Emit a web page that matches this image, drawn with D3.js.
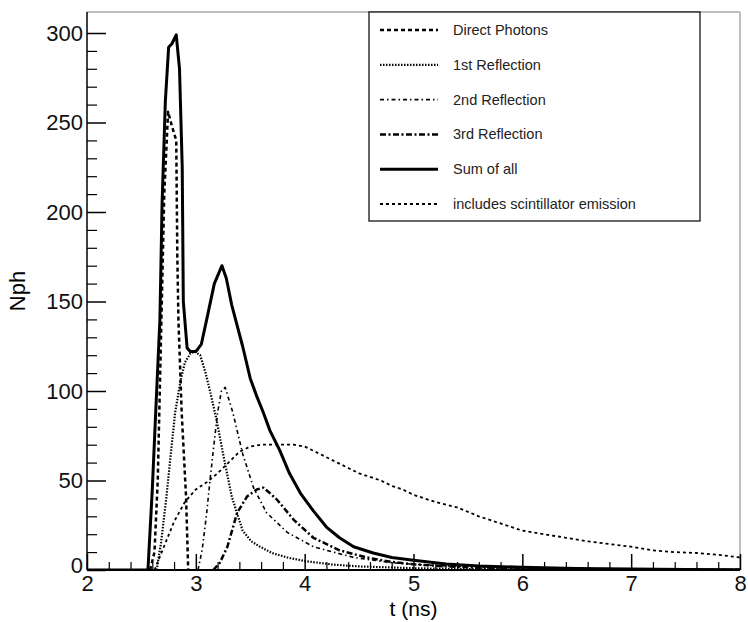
<!DOCTYPE html>
<html>
<head>
<meta charset="utf-8">
<title>Nph vs t</title>
<script src="https://d3js.org/d3.v7.min.js"></script>
<style>
	body { margin: 0; background: #fff; }
	svg { display: block; }
	text { font-family: "Liberation Sans", Arial, Helvetica, sans-serif; }
	.tick text { font-size: 22px; fill: #111; }
	.domain { display: none; }
</style>
</head>
<body>
<div id="chart"></div>
<script>

// time (ns) / photon counts
var sumT = [2.0, 2.56, 2.60, 2.64, 2.67, 2.69, 2.72, 2.75, 2.78, 2.82, 2.85, 2.875, 2.885, 2.92, 2.95, 3.00, 3.05, 3.10, 3.17, 3.24, 3.28, 3.33, 3.43, 3.50, 3.56, 3.62, 3.68, 3.77, 3.86, 3.96, 4.08, 4.20, 4.32, 4.45, 4.63, 4.80, 5.00, 5.30, 5.60, 6.00, 6.50, 7.00, 7.50, 8.00];
var sumN = [0, 0, 45, 100, 140, 205, 262, 292, 294, 299, 280, 225, 150, 124, 122, 122, 126, 140, 160, 170, 163, 148, 125, 107, 97, 88, 78, 67, 54, 43, 33, 24, 18, 13, 9.5, 7, 5.5, 3.4, 2.3, 1.5, 0.8, 0.5, 0.3, 0.2];

var directT = [2.58, 2.62, 2.65, 2.68, 2.71, 2.745, 2.78, 2.82, 2.83, 2.84, 2.87, 2.91, 2.93];
var directN = [0, 10, 50, 130, 210, 256, 248, 240, 175, 140, 88, 41, 0];

var firstT = [2.64, 2.68, 2.73, 2.77, 2.81, 2.86, 2.90, 2.95, 2.99, 3.04, 3.09, 3.13, 3.19, 3.25, 3.33, 3.43, 3.51, 3.59, 3.70, 3.84, 4.00, 4.26, 4.50, 5.00, 5.50, 6.00, 8.00];
var firstN = [0, 15, 41, 65, 88, 106, 116, 121, 122, 120, 110, 100, 84, 65, 41, 22, 16, 13, 9.5, 7, 5, 3, 2, 1, 0.5, 0.2, 0];

var secondT = [3.02, 3.06, 3.10, 3.13, 3.17, 3.20, 3.235, 3.27, 3.30, 3.34, 3.43, 3.53, 3.65, 3.84, 4.08, 4.45, 4.81, 5.20, 5.60, 6.00, 7.00, 8.00];
var secondN = [0, 12, 32, 50, 72, 88, 100, 102, 96, 88, 65, 46, 32, 21, 13, 7, 4, 2.5, 1.5, 1, 0.5, 0.2];

var thirdT = [3.16, 3.22, 3.29, 3.38, 3.47, 3.56, 3.62, 3.68, 3.75, 3.90, 4.08, 4.32, 4.57, 4.80, 5.00, 5.30, 5.60, 6.00, 7.00, 8.00];
var thirdN = [0, 4, 13, 32, 41, 45, 46, 43, 39, 28, 18, 11, 7, 4.5, 3.2, 2, 1.3, 0.8, 0.3, 0.1];

var scintT = [2.62, 2.70, 2.80, 2.90, 3.00, 3.10, 3.20, 3.30, 3.40, 3.50, 3.60, 3.70, 3.80, 3.90, 4.00, 4.10, 4.20, 4.30, 4.40, 4.50, 4.60, 4.70, 4.80, 4.90, 5.00, 5.20, 5.40, 5.60, 5.80, 6.00, 6.20, 6.40, 6.60, 6.80, 7.00, 7.20, 7.40, 7.60, 7.80, 8.00];
var scintN = [0, 12, 27, 38, 45, 49, 54, 60, 66, 69, 70, 70, 70, 70, 69, 66, 63, 60, 57, 54, 52, 50, 47, 45, 42, 38, 35, 30, 26, 22, 20, 18, 16, 14.5, 13, 11, 10, 9.5, 8.5, 7];

var legendLabels = ['Direct Photons', '1st Reflection', '2nd Reflection', '3rd Reflection', 'Sum of all', 'includes scintillator emission'];
var xTicks = [2, 3, 4, 5, 6, 7, 8];
var yTicks = [0, 50, 100, 150, 200, 250, 300];

var W = 748, H = 622;
var margin = {top: 12, right: 8, bottom: 52, left: 87};

var x = d3.scaleLinear().domain([2, 8]).range([margin.left, W - margin.right]);
var y = d3.scaleLinear().domain([0, 300]).range([H - margin.bottom, 33]);

var svg = d3.select('#chart').append('svg')
	.attr('width', W)
	.attr('height', H);

svg.append('clipPath').attr('id', 'plotclip')
	.append('rect')
	.attr('x', margin.left).attr('y', margin.top)
	.attr('width', W - margin.right - margin.left)
	.attr('height', H - margin.bottom - margin.top);

// frame: grey top / right, black axes
svg.append('line')
	.attr('x1', margin.left).attr('x2', W - margin.right)
	.attr('y1', margin.top).attr('y2', margin.top)
	.attr('stroke', '#aaa').attr('stroke-width', 1.5);
svg.append('line')
	.attr('x1', W - margin.right).attr('x2', W - margin.right)
	.attr('y1', margin.top).attr('y2', H - margin.bottom)
	.attr('stroke', '#aaa').attr('stroke-width', 1.5);

// curves
var series = [
	{t: directT, n: directN, w: 2.5, dash: '4,3'},
	{t: firstT, n: firstN, w: 2.2, dash: '1.5,1.5'},
	{t: secondT, n: secondN, w: 1.6, dash: '4,3,1.5,3'},
	{t: thirdT, n: thirdN, w: 2.5, dash: '6,2.5,2,2.5'},
	{t: sumT, n: sumN, w: 3, dash: null},
	{t: scintT, n: scintN, w: 1.8, dash: '3,3'}
];

var line = d3.line()
	.x(function(d){ return x(d[0]); })
	.y(function(d){ return y(d[1]); });

svg.append('g').attr('clip-path', 'url(#plotclip)')
	.selectAll('path')
	.data(series)
	.enter().append('path')
		.attr('d', function(s){ return line(d3.zip(s.t, s.n)); })
		.attr('fill', 'none')
		.attr('stroke', '#000')
		.attr('stroke-width', function(s){ return s.w; })
		.attr('stroke-dasharray', function(s){ return s.dash; })
		.attr('stroke-linejoin', 'round');

// y axis
var yMinor = d3.range(0, 301, 10).filter(function(v){ return v % 50 != 0; });
svg.append('g')
	.attr('transform', 'translate(' + margin.left + ',0)')
	.call(d3.axisLeft(y).tickValues(yMinor).tickSizeInner(-10).tickSizeOuter(0).tickFormat(''))
	.selectAll('line').attr('stroke', '#000').attr('stroke-width', 1.2);
var yAx = svg.append('g')
	.attr('transform', 'translate(' + margin.left + ',0)')
	.call(d3.axisLeft(y).tickValues(yTicks).tickSizeInner(-19).tickSizeOuter(0).tickPadding(4).tickFormat(d3.format('d')));
yAx.selectAll('line').attr('stroke', '#000').attr('stroke-width', 1.5);
// the "0" sits a little above the x axis labels
yAx.selectAll('.tick text').filter(function(d){ return d == 0; }).attr('y', -5);
svg.append('line')
	.attr('x1', margin.left).attr('x2', margin.left)
	.attr('y1', margin.top).attr('y2', H - margin.bottom)
	.attr('stroke', '#000').attr('stroke-width', 1.5);

// x axis
var xMinor = d3.range(20, 81, 2).map(function(v){ return v / 10; }).filter(function(v){ return v % 1 != 0; });
svg.append('g')
	.attr('transform', 'translate(0,' + (H - margin.bottom) + ')')
	.call(d3.axisBottom(x).tickValues(xMinor).tickSizeInner(-8).tickSizeOuter(0).tickFormat(''))
	.selectAll('line').attr('stroke', '#000').attr('stroke-width', 1.2);
var xAx = svg.append('g')
	.attr('transform', 'translate(0,' + (H - margin.bottom) + ')')
	.call(d3.axisBottom(x).tickValues(xTicks).tickSizeInner(-16).tickSizeOuter(0).tickPadding(5).tickFormat(d3.format('d')));
xAx.selectAll('line').attr('stroke', '#000').attr('stroke-width', 1.5);
svg.append('line')
	.attr('x1', margin.left).attr('x2', W - margin.right)
	.attr('y1', H - margin.bottom).attr('y2', H - margin.bottom)
	.attr('stroke', '#000').attr('stroke-width', 2);

// axis titles
svg.append('text')
	.attr('x', (margin.left + W - margin.right) / 2)
	.attr('y', 616)
	.attr('text-anchor', 'middle')
	.style('font-size', '21px')
	.text('t (ns)');
svg.append('text')
	.attr('transform', 'translate(25,291) rotate(-90)')
	.attr('text-anchor', 'middle')
	.style('font-size', '22px')
	.text('Nph');

// legend
var leg = svg.append('g');
leg.append('rect')
	.attr('x', 369).attr('y', margin.top)
	.attr('width', 331).attr('height', 209)
	.attr('fill', '#fff').attr('stroke', '#000').attr('stroke-width', 1.2);

var legRow = leg.selectAll('g.row')
	.data(series)
	.enter().append('g').attr('class', 'row')
	.attr('transform', function(d, i){ return 'translate(0,' + (30 + i * 34.8) + ')'; });

legRow.append('line')
	.attr('x1', 380).attr('x2', 438)
	.attr('stroke', '#000')
	.attr('stroke-width', function(s){ return s.w; })
	.attr('stroke-dasharray', function(s){ return s.dash; });

legRow.append('text')
	.attr('x', 453)
	.attr('dy', '0.35em')
	.style('font-size', '14.5px')
	.style('fill', '#222')
	.text(function(d, i){ return legendLabels[i]; });

</script>
</body>
</html>
